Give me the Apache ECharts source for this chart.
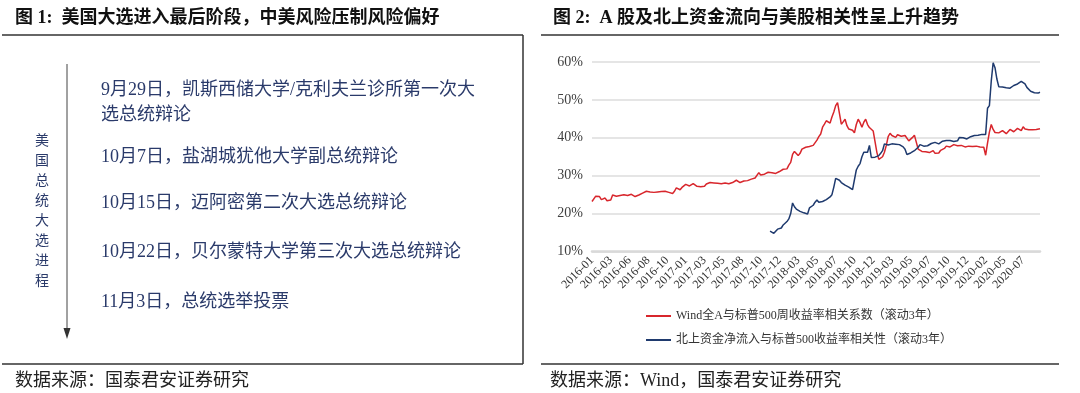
<!DOCTYPE html>
<html>
<head>
<meta charset="utf-8">
<script src="https://cdn.jsdelivr.net/npm/echarts@6/dist/echarts.min.js"></script>
<style>
html,body{margin:0;padding:0;background:#fff;}
#main{width:1080px;height:393px;}
</style>
</head>
<body>
<div id="main"></div>
<script>
// ---- data ----
var tickLabels = ['2016-01','2016-03','2016-06','2016-08','2016-10','2017-01','2017-03','2017-05','2017-08','2017-10','2017-12','2018-03','2018-05','2018-07','2018-10','2018-12','2019-03','2019-05','2019-07','2019-10','2019-12','2020-02','2020-05','2020-07'];

var seriesNames = ['Wind全A与标普500周收益率相关系数（滚动3年）', '北上资金净流入与标普500收益率相关性（滚动3年）'];

var windCorr = [
23.2,23.6,24.6,25.0,24.5,23.7,23.8,24.1,23.4,23.3,
23.6,24.9,24.8,24.6,24.7,24.8,24.6,25.0,25.2,24.8,
24.7,25.1,24.8,24.5,24.6,24.9,25.2,25.4,25.7,25.9,
25.8,25.7,25.5,25.6,25.4,25.7,25.9,25.8,26.1,25.9,
25.8,25.6,25.4,25.3,25.9,26.8,26.6,26.3,26.9,27.4,
27.7,27.5,27.3,27.6,27.9,27.6,27.2,27.0,27.1,26.9,
27.2,27.8,28.3,28.2,28.3,28.1,28.3,28.0,27.8,27.9,
28.2,28.1,28.0,27.9,28.1,28.2,28.3,28.8,28.5,28.2,
28.4,28.6,28.8,28.7,29.0,29.1,29.3,29.4,29.8,30.8,
30.2,30.1,30.4,30.7,30.9,31.0,30.8,30.9,30.6,30.8,
31.1,31.3,31.7,31.5,31.8,32.8,33.5,35.6,36.4,36.6,
35.3,35.9,37.0,36.8,37.5,37.9,37.7,38.1,38.0,38.3,
39.4,40.3,41.0,42.8,43.6,44.5,44.2,43.9,45.5,46.8,
48.5,49.3,48.8,43.6,44.2,44.9,43.2,42.3,42.4,42.0,
41.3,43.5,44.9,44.0,42.8,44.1,44.9,43.5,42.7,42.4,
41.8,41.3,36.1,34.3,33.9,35.0,36.2,38.0,40.3,41.2,
40.6,40.3,40.1,40.8,41.0,40.4,40.0,40.6,40.9,39.2,
39.6,40.1,40.7,40.9,37.0,36.6,36.4,36.5,36.3,36.2,
36.1,36.3,36.6,35.9,35.6,36.0,36.7,36.5,37.2,37.8,
37.9,37.6,38.0,38.2,38.0,37.9,38.2,38.0,37.8,37.6,
37.7,37.8,37.9,37.7,37.6,37.8,37.5,37.6,37.4,37.5,
35.4,38.6,41.5,43.5,42.2,41.4,41.6,41.3,41.8,41.9,
41.5,41.1,41.6,42.2,41.8,41.6,42.0,42.5,42.1,41.9,
42.9,42.3,42.0,42.1,42.2,42.1,42.3,42.2,42.3,42.4
];

var northFlowCorr = [
null,null,null,null,null,null,null,null,null,null,
null,null,null,null,null,null,null,null,null,null,
null,null,null,null,null,null,null,null,null,null,
null,null,null,null,null,null,null,null,null,null,
null,null,null,null,null,null,null,null,null,null,
null,null,null,null,null,null,null,null,null,null,
null,null,null,null,null,null,null,null,null,null,
null,null,null,null,null,null,null,null,null,null,
null,null,null,null,null,null,null,null,null,null,
null,null,null,null,null,15.4,15.2,14.8,15.3,15.9,
15.6,16.2,17.0,17.4,17.9,18.6,20.0,22.8,21.8,21.2,
20.9,20.6,20.4,20.2,20.1,19.9,21.5,22.0,22.2,23.0,
23.6,23.0,23.3,23.2,23.5,23.7,24.0,24.4,25.0,27.0,
29.3,29.2,28.8,28.2,28.0,27.5,27.2,27.0,26.6,26.3,
25.9,31.5,32.5,33.2,35.0,36.2,36.6,36.2,38.0,34.8,
34.6,34.9,35.0,35.3,35.9,36.6,38.4,38.8,38.1,38.6,
38.4,38.1,38.3,38.0,38.2,38.1,37.6,37.0,35.6,35.2,
36.0,36.5,36.6,37.0,37.5,38.2,38.0,37.8,38.1,37.9,
38.2,38.5,38.3,38.8,38.6,38.4,38.8,39.1,39.6,39.3,
39.1,39.3,39.2,39.0,39.3,39.2,40.1,40.5,40.0,39.8,
39.7,40.2,40.3,40.0,40.6,40.9,40.7,40.8,40.9,40.8,
40.9,47.8,48.5,55.0,59.8,58.5,55.5,53.5,53.3,53.4,
53.3,53.2,53.4,53.1,53.5,53.8,53.9,54.2,54.6,54.9,
54.8,54.2,53.3,52.8,52.3,52.1,51.9,51.7,51.8,52.0
];

var yTicks = { min: 10, max: 60, interval: 10 };

var timelineItems = [
  '9月29日，凯斯西储大学/克利夫兰诊所第一次大\n选总统辩论',
  '10月7日，盐湖城犹他大学副总统辩论',
  '10月15日，迈阿密第二次大选总统辩论',
  '10月22日，贝尔蒙特大学第三次大选总统辩论',
  '11月3日，总统选举投票'
];
var timelineY = [103, 157, 203, 252, 302];
var sideLabel = '美国总统大选进程';

// ---- chart ----
var SERIF = "'Liberation Serif','Noto Sans CJK SC',serif";
var NAVY = '#2a3a6a';
var categories = windCorr.map(function (_, i) { return String(i); });

var graphics = [
  { type: 'text', left: 15, top: 9, style: { text: '图 1:  美国大选进入最后阶段，中美风险压制风险偏好', font: 'bold 18px ' + SERIF, fill: '#111' } },
  { type: 'text', left: 553, top: 9, style: { text: '图 2:  A 股及北上资金流向与美股相关性呈上升趋势', font: 'bold 18px ' + SERIF, fill: '#111' } },
  { type: 'line', shape: { x1: 2, y1: 35, x2: 523, y2: 35 }, style: { stroke: '#333', lineWidth: 1.5 } },
  { type: 'line', shape: { x1: 541, y1: 35, x2: 1059, y2: 35 }, style: { stroke: '#333', lineWidth: 1.5 } },
  { type: 'line', shape: { x1: 523, y1: 35, x2: 523, y2: 364 }, style: { stroke: '#333', lineWidth: 1.5 } },
  { type: 'line', shape: { x1: 2, y1: 364, x2: 523, y2: 364 }, style: { stroke: '#333', lineWidth: 1.5 } },
  { type: 'line', shape: { x1: 541, y1: 364, x2: 1059, y2: 364 }, style: { stroke: '#333', lineWidth: 1.5 } },
  { type: 'text', left: 15, top: 372, style: { text: '数据来源：国泰君安证券研究', font: '18px ' + SERIF, fill: '#222' } },
  { type: 'text', left: 550, top: 372, style: { text: '数据来源：Wind，国泰君安证券研究', font: '18px ' + SERIF, fill: '#222' } },
  // timeline arrow
  { type: 'line', shape: { x1: 67, y1: 64, x2: 67, y2: 332 }, style: { stroke: '#444', lineWidth: 1 } },
  { type: 'polygon', shape: { points: [[63.5, 328], [70.5, 328], [67, 339]] }, style: { fill: '#333' } },
  { type: 'text', x: 42, y: 211, style: { text: sideLabel.split('').join('\n'), font: '14px ' + SERIF, lineHeight: 20, fill: NAVY, align: 'center', verticalAlign: 'middle' } }
];
timelineItems.forEach(function (t, k) {
  graphics.push({ type: 'text', x: 101, y: timelineY[k], style: { text: t, font: '18px ' + SERIF, lineHeight: 25, fill: NAVY, align: 'left', verticalAlign: 'middle' } });
});

var chart = echarts.init(document.getElementById('main'), null, { renderer: 'canvas' });
chart.setOption({
  animation: false,
  backgroundColor: '#ffffff',
  textStyle: { fontFamily: SERIF },
  grid: { left: 592, right: 40, top: 62, bottom: 141.5, containLabel: false },
  legend: {
    orient: 'vertical', left: 641, top: 304, itemGap: 10,
    icon: 'rect', itemWidth: 25, itemHeight: 2,
    textStyle: { fontFamily: SERIF, fontSize: 12, color: '#333', lineHeight: 14 },
    data: seriesNames
  },
  xAxis: {
    type: 'category', data: categories, boundaryGap: false,
    axisLine: { lineStyle: { color: '#d9d9d9', width: 2.5 } },
    axisTick: { show: false },
    axisLabel: {
      interval: 9, rotate: 45, margin: 7, fontSize: 12, color: '#333', fontFamily: SERIF,
      formatter: function (v, idx) { return tickLabels[Math.round(idx / 10)] || ''; }
    },
    splitLine: { show: false }
  },
  yAxis: {
    type: 'value', min: yTicks.min, max: yTicks.max, interval: yTicks.interval,
    axisLine: { show: false }, axisTick: { show: false },
    axisLabel: { formatter: '{value}%', fontSize: 14, color: '#404040', margin: 9, fontFamily: SERIF },
    splitLine: { lineStyle: { color: '#dcdcdc', width: 1.5 } }
  },
  series: [
    { name: seriesNames[0], type: 'line', data: windCorr, symbol: 'none', connectNulls: false,
      lineStyle: { color: '#d8262c', width: 1.5 }, itemStyle: { color: '#d8262c' } },
    { name: seriesNames[1], type: 'line', data: northFlowCorr, symbol: 'none', connectNulls: false,
      lineStyle: { color: '#1f3a6e', width: 1.5 }, itemStyle: { color: '#1f3a6e' } }
  ],
  graphic: graphics
});
</script>
</body>
</html>
